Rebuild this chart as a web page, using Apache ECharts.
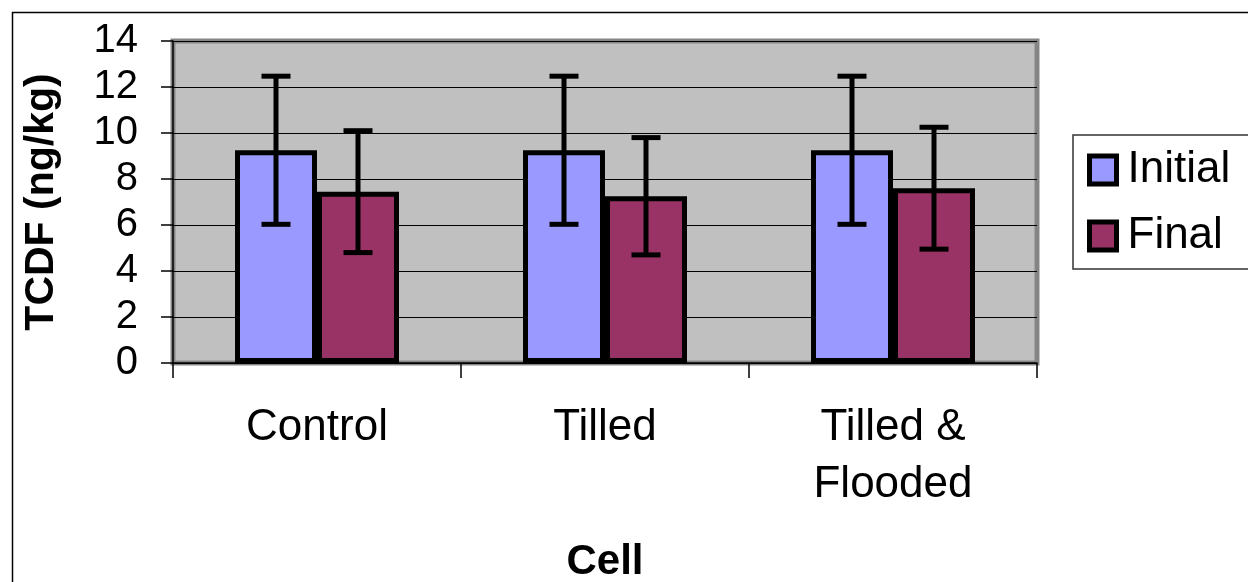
<!DOCTYPE html>
<html>
<head>
<meta charset="utf-8">
<script src="https://cdn.jsdelivr.net/npm/echarts@6/dist/echarts.min.js"></script>
<style>
html,body{margin:0;padding:0;background:#fff;}
#chart{width:1248px;height:582px;}
</style>
</head>
<body>
<div id="chart"></div>
<script>
const categories = ['Control', 'Tilled', 'Tilled &\nFlooded'];
const initialValues = [9.25, 9.25, 9.25];
const initialErrors = [3.22, 3.22, 3.22];
const finalValues = [7.45, 7.25, 7.6];
const finalErrors = [2.65, 2.55, 2.65];
const yTicks = { min: 0, max: 14, interval: 2 };

const FONT = '"Liberation Sans", Arial, sans-serif';
const BAR_WIDTH = 82;

function errData(vals, errs) {
  return vals.map((v, i) => [i, v - errs[i], v + errs[i]]);
}

function errRenderer(offset) {
  return function (params, api) {
    const idx = api.value(0);
    const lo = api.coord([idx, api.value(1)]);
    const hi = api.coord([idx, api.value(2)]);
    const x = lo[0] + offset;
    const cap = 14.5;
    const style = { stroke: '#000', lineWidth: 5 };
    return {
      type: 'group',
      children: [
        { type: 'line', shape: { x1: x, y1: hi[1], x2: x, y2: lo[1] }, style: style },
        { type: 'line', shape: { x1: x - cap, y1: hi[1], x2: x + cap, y2: hi[1] }, style: style },
        { type: 'line', shape: { x1: x - cap, y1: lo[1], x2: x + cap, y2: lo[1] }, style: style }
      ]
    };
  };
}

const chart = echarts.init(document.getElementById('chart'));
chart.setOption({
  animation: false,
  backgroundColor: '#fff',
  graphic: [{
    type: 'rect', left: 10, top: 10, z: -1,
    shape: { width: 1400, height: 800 },
    style: { fill: 'none', stroke: '#000', lineWidth: 1.5 }
  }],
  grid: {
    left: 173, right: 211, top: 41, bottom: 219,
    containLabel: false,
    outerBoundsMode: 'none',
    show: true, backgroundColor: '#C0C0C0',
    borderColor: '#858585', borderWidth: 5
  },
  legend: {
    data: ['Initial', 'Final'],
    orient: 'vertical',
    left: 1073, top: 135,
    padding: [13, 70, 11, 14],
    itemGap: 22,
    itemWidth: 27, itemHeight: 28,
    backgroundColor: '#fff',
    borderColor: '#333', borderWidth: 1.5, borderRadius: 0,
    icon: 'rect',
    itemStyle: { borderColor: '#000', borderWidth: 5 },
    textStyle: { fontFamily: FONT, fontSize: 44, color: '#000', padding: [0, 0, 0, 6] }
  },
  xAxis: {
    type: 'category',
    data: categories,
    name: 'Cell',
    nameLocation: 'middle',
    nameGap: 178,
    nameTextStyle: { fontFamily: FONT, fontSize: 42, fontWeight: 'bold', color: '#000' },
    axisLine: { lineStyle: { color: '#000', width: 1.5 } },
    axisTick: { show: true, length: 15, lineStyle: { color: '#000', width: 1.5 } },
    axisLabel: { fontFamily: FONT, fontSize: 44, lineHeight: 57, color: '#000', margin: 36, interval: 0 }
  },
  yAxis: {
    type: 'value',
    min: yTicks.min, max: yTicks.max, interval: yTicks.interval,
    name: 'TCDF (ng/kg)',
    nameLocation: 'middle',
    nameGap: 111,
    nameTextStyle: { fontFamily: FONT, fontSize: 41, fontWeight: 'bold', color: '#000' },
    axisLine: { show: true, lineStyle: { color: '#000', width: 1.5 } },
    axisTick: { show: true, length: 12, lineStyle: { color: '#000', width: 1.5 } },
    axisLabel: { fontFamily: FONT, fontSize: 40, color: '#000', margin: 35 },
    splitLine: { show: true, lineStyle: { color: '#000', width: 1.2 } }
  },
  series: [
    {
      name: 'Initial', type: 'bar', data: initialValues,
      barWidth: BAR_WIDTH, barGap: '0%',
      itemStyle: { color: '#9999FF', borderColor: '#000', borderWidth: 5 }
    },
    {
      name: 'Final', type: 'bar', data: finalValues,
      barWidth: BAR_WIDTH, barGap: '0%',
      itemStyle: { color: '#993366', borderColor: '#000', borderWidth: 5 }
    },
    {
      name: 'Initial error', type: 'custom', z: 5,
      renderItem: errRenderer(-BAR_WIDTH / 2),
      data: errData(initialValues, initialErrors),
      encode: { x: 0, y: [1, 2] }
    },
    {
      name: 'Final error', type: 'custom', z: 5,
      renderItem: errRenderer(BAR_WIDTH / 2),
      data: errData(finalValues, finalErrors),
      encode: { x: 0, y: [1, 2] }
    }
  ]
});
</script>
</body>
</html>
